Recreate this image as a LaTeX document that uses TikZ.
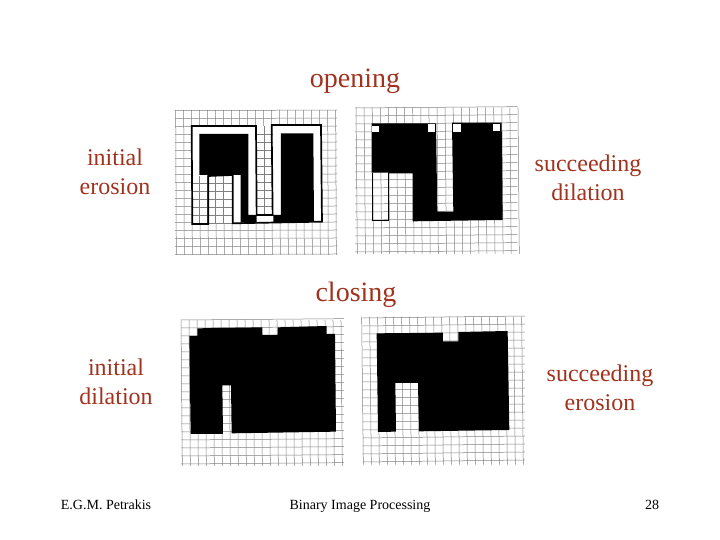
\documentclass[tikz,border=0pt]{standalone}
\usepackage{fontspec}
\setmainfont{Liberation Serif}
\usepackage{tikz}
\usetikzlibrary{positioning}
\definecolor{labelred}{RGB}{160,50,30}
\tikzset{
  titletext/.style={text=labelred,font=\fontsize{28}{28}\selectfont,inner sep=0pt},
  sidetext/.style={text=labelred,font=\fontsize{24}{29}\selectfont,align=center,inner sep=0pt},
  foottext/.style={text=black,font=\fontsize{14}{14}\selectfont,inner sep=0pt,anchor=base},
  gridline/.style={draw=black!50,line width=0.5pt},
  shapeline/.style={draw=black,line width=1.7pt,line join=miter},
}
\begin{document}
\begin{tikzpicture}[x=1pt,y=-1pt]
  \useasboundingbox (0,0) rectangle (720,540);
  % opening, initial erosion
  \begin{scope}[shift={(170,100)},scale=0.3333]
    \foreach \k in {0,...,20}{\draw[gridline] (17+24*\k,30) -- (19+24*\k,465);}
    \foreach \k in {0,...,18}{\draw[gridline] (15,32+24*\k) -- (502,30+24*\k);}
    \fill[white] (65,78) rectangle (455,370);
    \foreach \k in {0,...,2}{\draw[gridline] (113+24*\k,228) -- (113+24*\k,370);}
    \foreach \k in {0,...,5}{\draw[gridline] (113,250+24*\k) -- (188,250+24*\k);}
    \foreach \k in {0,...,1}{\draw[gridline] (260+24*\k,78) -- (260+24*\k,345);}
    \foreach \k in {0,...,10}{\draw[gridline] (258,102+24*\k) -- (308,102+24*\k);}
    \draw[gridline] (89,228) -- (89,370);
    \foreach \k in {0,...,5}{\draw[gridline] (67,250+24*\k) -- (113,250+24*\k);}
    \fill (88,102) -- (235,102) -- (235,345) -- (260,345) -- (260,368) -- (212,368) -- (212,225) -- (88,225) -- cycle;
    \fill (333,100) -- (430,100) -- (432,365) -- (310,368) -- (310,345) -- (333,345) -- cycle;
    \draw[shapeline] (65,78) -- (258,78) -- (260,345) -- (308,345) -- (305,75) -- (453,75) -- (456,365) -- (188,370) -- (188,225) -- (115,228) -- (115,372) -- (67,372) -- cycle;
  \end{scope}
  % opening, succeeding dilation
  \begin{scope}[shift={(350,100)},scale=0.3333]
    \foreach \k in {0,...,20}{\draw[gridline] (18+24.3*\k,22) -- (22+24.3*\k,462);}
    \foreach \k in {0,...,18}{\draw[gridline] (15,24+24*\k) -- (502,20+24*\k);}
    \fill (65,70) -- (258,70) -- (262,335) -- (310,335) -- (306,68) -- (455,68) -- (458,360) -- (188,364) -- (188,220) -- (115,220) -- (115,218) -- (65,218) -- cycle;
    \fill[white] (67,77) rectangle (88,97);
    \fill[white] (235,73) rectangle (255,95);
    \fill[white] (310,73) rectangle (332,95);
    \fill[white] (430,72) rectangle (450,92);
    \draw[black,line width=1.2pt] (68,218) -- (68,362) -- (116,362) -- (116,218);
  \end{scope}
  % closing, initial dilation
  \begin{scope}[shift={(170,310)},scale=0.3333]
    \foreach \k in {0,...,20}{\draw[gridline] (33+24*\k,30) -- (37+24*\k,468);}
    \foreach \k in {0,...,18}{\draw[gridline] (33,30+24*\k) -- (522,26+24*\k);}
    \fill (82,55) -- (277,52) -- (277,75) -- (323,75) -- (323,52) -- (470,48) -- (470,72) -- (495,72) -- (498,365) -- (185,370) -- (183,226) -- (157,226) -- (159,372) -- (62,372) -- (58,78) -- (82,78) -- cycle;
  \end{scope}
  % closing, succeeding erosion
  \begin{scope}[shift={(350,310)},scale=0.3333]
    \foreach \k in {0,...,20}{\draw[gridline] (35+24*\k,20) -- (40+24*\k,464);}
    \foreach \k in {0,...,18}{\draw[gridline] (38,24+24*\k) -- (525,18+24*\k);}
    \fill (80,70) -- (279,68) -- (279,94) -- (325,94) -- (325,66) -- (473,63) -- (478,360) -- (207,364) -- (204,219) -- (136,219) -- (138,365) -- (84,366) -- cycle;
  \end{scope}
  \node[titletext] (opening) at (355,81) {opening};
  \node[titletext] (closing) at (356,295) {closing};
  \node[sidetext] (erosion) at (115,172) {initial\\erosion};
  \node[sidetext] (sdilation) at (588,178) {succeeding\\dilation};
  \node[sidetext] (dilation) at (116,382) {initial\\dilation};
  \node[sidetext] (serosion) at (600,388) {succeeding\\erosion};
  \node[foottext] (author) at (106,509) {E.G.M. Petrakis};
  \node[foottext] (footer) at (360,509) {Binary Image Processing};
  \node[foottext] (pagenum) at (652,509) {28};
\end{tikzpicture}
\end{document}
